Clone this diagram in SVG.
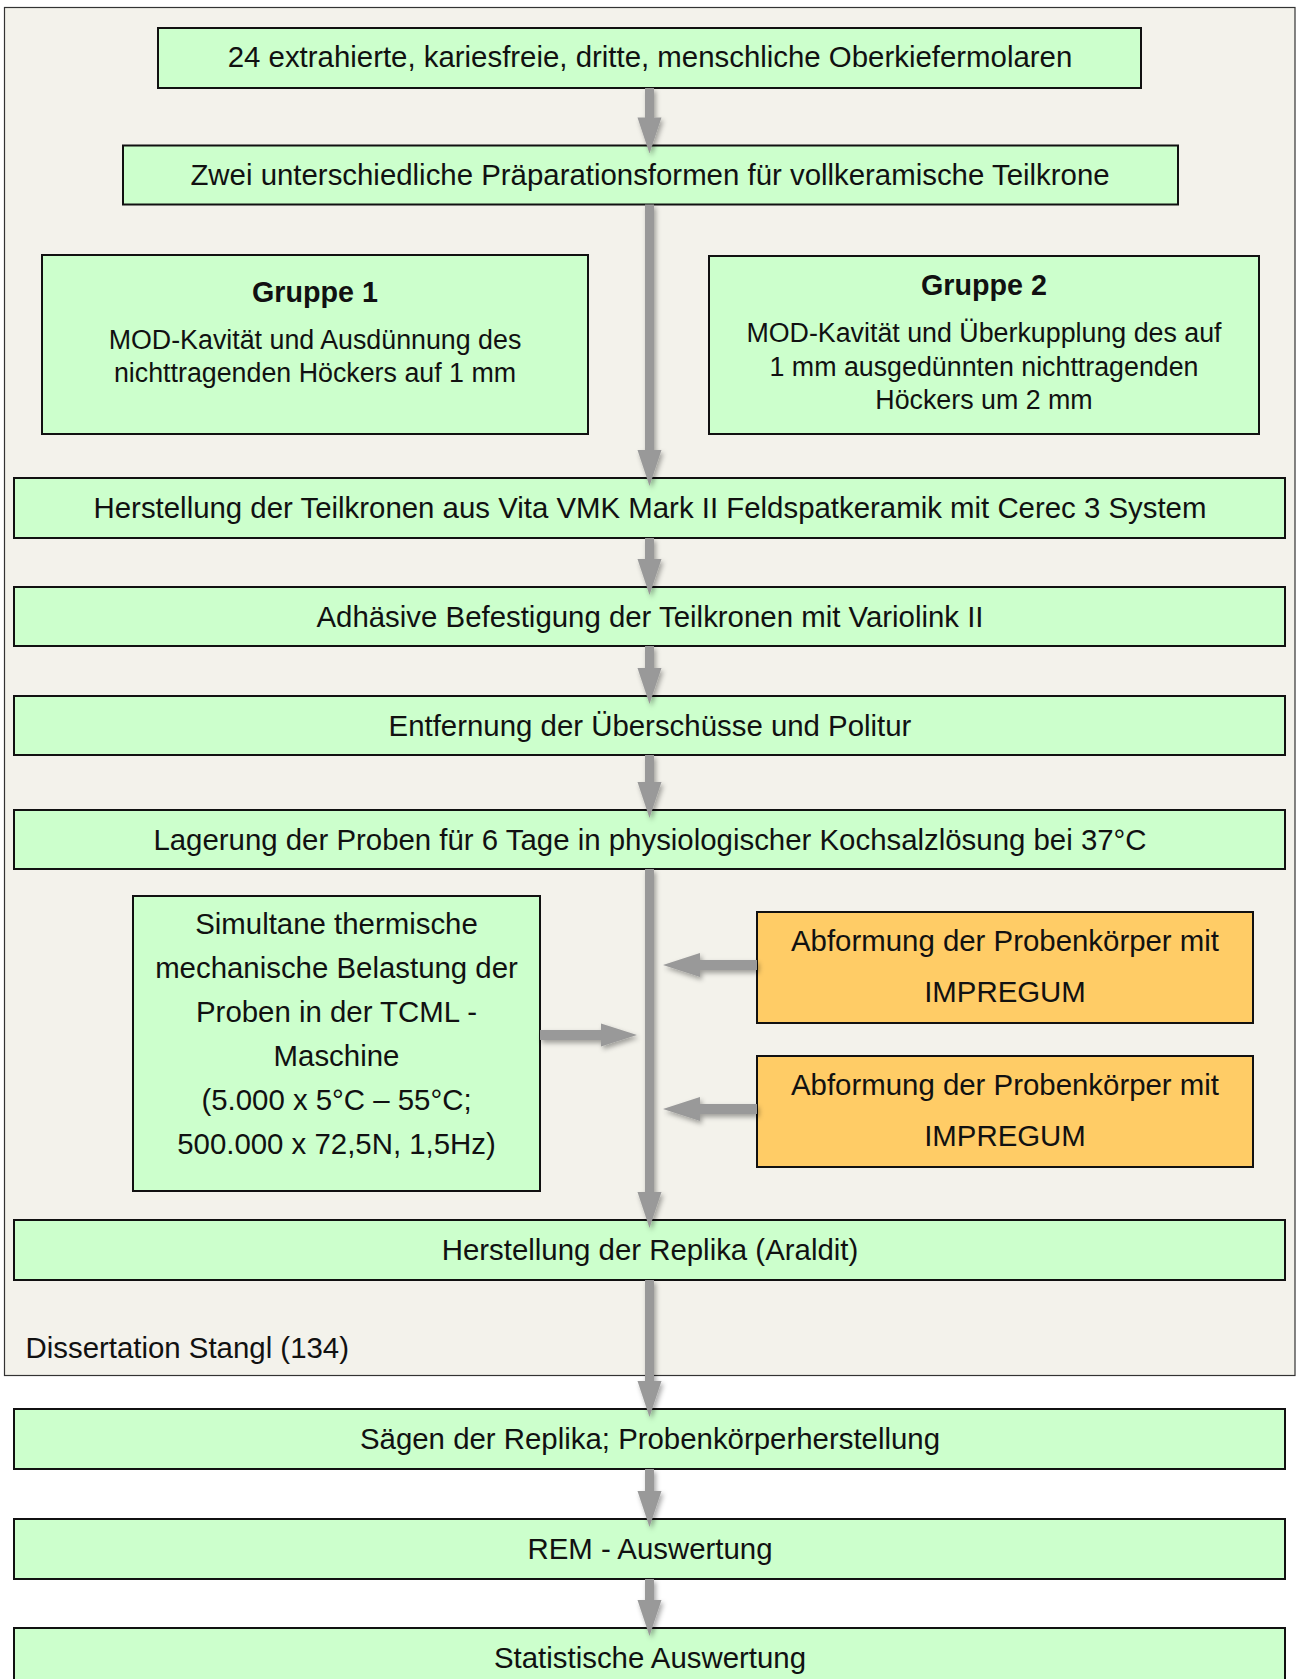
<svg xmlns="http://www.w3.org/2000/svg" width="1297" height="1679" viewBox="0 0 1297 1679">
<defs>
<style>
.box{fill:#ccffcc;stroke:#111;stroke-width:2}
.org{fill:#ffcc66;stroke:#111;stroke-width:2}
.t{font-family:"Liberation Sans",Arial,sans-serif;font-size:29.4px;fill:#111;text-anchor:middle}
.s{font-family:"Liberation Sans",Arial,sans-serif;font-size:26.8px;fill:#111;text-anchor:middle}
.b{font-family:"Liberation Sans",Arial,sans-serif;font-size:28.7px;font-weight:bold;fill:#111;text-anchor:middle}
.arr{fill:#999}
</style>
<filter id="sh" x="-50%" y="-50%" width="200%" height="200%">
<feDropShadow dx="2" dy="3" stdDeviation="2.5" flood-color="#000" flood-opacity="0.35"/>
</filter>
</defs>
<rect width="1297" height="1679" fill="#fff"/>
<g id="panel">
<rect x="4.5" y="7.5" width="1290.5" height="1368" fill="#f3f2eb" stroke="#333" stroke-width="1.2"/>
<text x="25.5" y="1357.5" class="t" style="text-anchor:start">Dissertation Stangl (134)</text>
</g>
<g id="n1"><rect class="box" x="158" y="28" width="983" height="60"/><text class="t" x="650" y="67">24 extrahierte, kariesfreie, dritte, menschliche Oberkiefermolaren</text></g>
<g id="n2"><rect class="box" x="123" y="145.5" width="1055" height="59"/><text class="t" x="650" y="184.5">Zwei unterschiedliche Präparationsformen für vollkeramische Teilkrone</text></g>
<g id="g1"><rect class="box" x="42" y="255" width="546" height="179"/><text class="b" x="315" y="302">Gruppe 1</text><text class="s" x="315" y="348.5">MOD-Kavität und Ausdünnung des</text><text class="s" x="315" y="382">nichttragenden Höckers auf 1 mm</text></g>
<g id="g2"><rect class="box" x="709" y="256" width="550" height="178"/><text class="b" x="984" y="295">Gruppe 2</text><text class="s" x="984" y="342">MOD-Kavität und Überkupplung des auf</text><text class="s" x="984" y="375.5">1 mm ausgedünnten nichttragenden</text><text class="s" x="984" y="409">Höckers um 2 mm</text></g>
<g id="n3"><rect class="box" x="14" y="478" width="1271" height="60"/><text class="t" x="650" y="517.5">Herstellung der Teilkronen aus Vita VMK Mark II Feldspatkeramik mit Cerec 3 System</text></g>
<g id="n4"><rect class="box" x="14" y="587" width="1271" height="59"/><text class="t" x="650" y="626.5">Adhäsive Befestigung der Teilkronen mit Variolink II</text></g>
<g id="n5"><rect class="box" x="14" y="696" width="1271" height="59"/><text class="t" x="650" y="735.5">Entfernung der Überschüsse und Politur</text></g>
<g id="n6"><rect class="box" x="14" y="810" width="1271" height="59"/><text class="t" x="650" y="849.5">Lagerung der Proben für 6 Tage in physiologischer Kochsalzlösung bei 37°C</text></g>
<g id="n7"><rect class="box" x="133" y="896" width="407" height="295"/>
<text class="t" x="336.5" y="934">Simultane thermische</text>
<text class="t" x="336.5" y="978">mechanische Belastung der</text>
<text class="t" x="336.5" y="1022">Proben in der TCML -</text>
<text class="t" x="336.5" y="1066">Maschine</text>
<text class="t" x="336.5" y="1110">(5.000 x 5°C – 55°C;</text>
<text class="t" x="336.5" y="1154">500.000 x 72,5N, 1,5Hz)</text></g>
<g id="n8"><rect class="org" x="757" y="912" width="496" height="111"/><text class="t" x="1005" y="951">Abformung der Probenkörper mit</text><text class="t" x="1005" y="1001.5">IMPREGUM</text></g>
<g id="n9"><rect class="org" x="757" y="1056" width="496" height="111"/><text class="t" x="1005" y="1095">Abformung der Probenkörper mit</text><text class="t" x="1005" y="1145.5">IMPREGUM</text></g>
<g id="n10"><rect class="box" x="14" y="1220" width="1271" height="60"/><text class="t" x="650" y="1259.5">Herstellung der Replika (Araldit)</text></g>
<g id="n11"><rect class="box" x="14" y="1409" width="1271" height="60"/><text class="t" x="650" y="1448.5">Sägen der Replika; Probenkörperherstellung</text></g>
<g id="n12"><rect class="box" x="14" y="1519" width="1271" height="60"/><text class="t" x="650" y="1558.5">REM - Auswertung</text></g>
<g id="n13"><rect class="box" x="14" y="1628" width="1271" height="60"/><text class="t" x="650" y="1667.5">Statistische Auswertung</text></g>
<g id="connectors" class="arr" filter="url(#sh)">
<path d="M645,88H654V117.5H661.5L649.5,153.5L637.5,117.5H645Z"/>
<path d="M645,204.5H654V450H661.5L649.5,486L637.5,450H645Z"/>
<path d="M645,538H654V559H661.5L649.5,595L637.5,559H645Z"/>
<path d="M645,646H654V668H661.5L649.5,704L637.5,668H645Z"/>
<path d="M645,755H654V782H661.5L649.5,818L637.5,782H645Z"/>
<path d="M645,869H654V1192H661.5L649.5,1228L637.5,1192H645Z"/>
<path d="M645,1280H654V1381H661.5L649.5,1417L637.5,1381H645Z"/>
<path d="M645,1469H654V1491H661.5L649.5,1527L637.5,1491H645Z"/>
<path d="M645,1579H654V1600H661.5L649.5,1636L637.5,1600H645Z"/>
<path d="M540,1030H601V1023.5L637,1035L601,1046.5V1040H540Z"/>
<path d="M757,960H700V953L663,965L700,977V970H757Z"/>
<path d="M757,1104H700V1097L663,1109L700,1121V1114H757Z"/>
</g>
</svg>
